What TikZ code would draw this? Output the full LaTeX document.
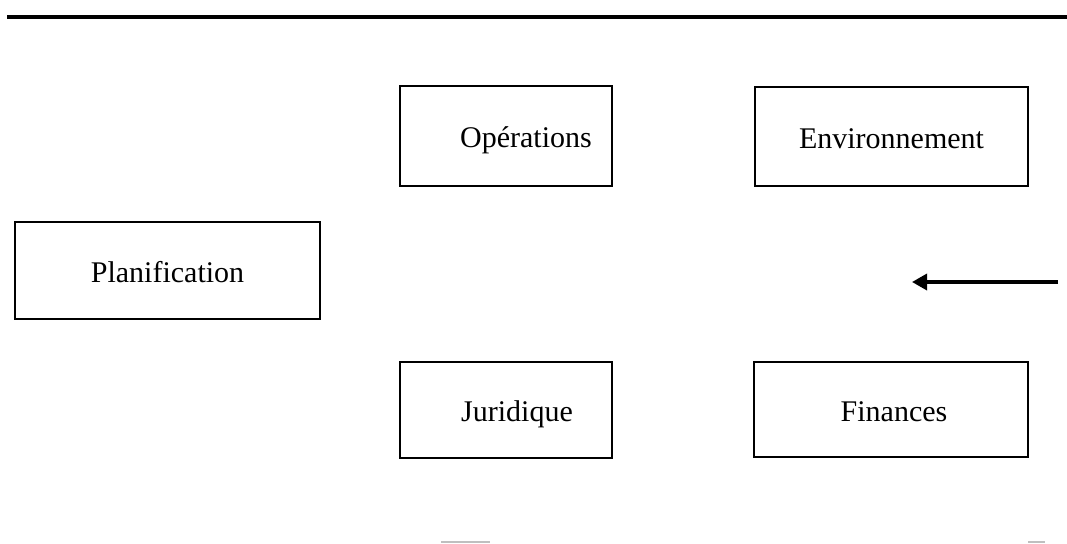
\documentclass[tikz,border=0pt]{standalone}
\usepackage{fontspec}
\setmainfont{Liberation Serif}
\usetikzlibrary{arrows.meta}
\begin{document}
\begin{tikzpicture}[x=1pt,y=-1pt,
  box/.style={draw,line width=1.8pt,inner sep=0pt,text height=27pt,text depth=4pt,
    font=\fontsize{30}{34}\selectfont},
  tshift/.style={execute at begin node=\hspace*{#1}},
  rule/.style={line width=3.4pt},
  flow/.style={line width=3.4pt,-{Triangle[length=15pt,width=16pt]}},
  artifact/.style={line width=1.4pt,draw=black!25}]
\useasboundingbox (0,0) rectangle (1067,543);
\coordinate (tl) at (7,17);
\coordinate (tr) at (1067,17);
\draw[rule] (tl) -- (tr);
\node[box,tshift=40pt,minimum width=212pt,minimum height=100pt] (ops) at (506,136) {Opérations};
\node[box,minimum width=273pt,minimum height=99pt] (env) at (891.5,136.5) {Environnement};
\node[box,minimum width=305pt,minimum height=97pt] (plan) at (167.5,270.5) {Planification};
\node[box,tshift=22pt,minimum width=212pt,minimum height=96pt] (jur) at (506,410) {Juridique};
\node[box,tshift=6pt,minimum width=274pt,minimum height=95pt] (fin) at (891,409.5) {Finances};
\coordinate (as) at (1058,282);
\coordinate (ae) at (912,282);
\draw[flow] (as) -- (ae);
\coordinate (b1) at (441,542);
\coordinate (b2) at (490,542);
\coordinate (b3) at (1028,542);
\coordinate (b4) at (1045,542);
\draw[artifact] (b1) -- (b2);
\draw[artifact] (b3) -- (b4);
\end{tikzpicture}
\end{document}
